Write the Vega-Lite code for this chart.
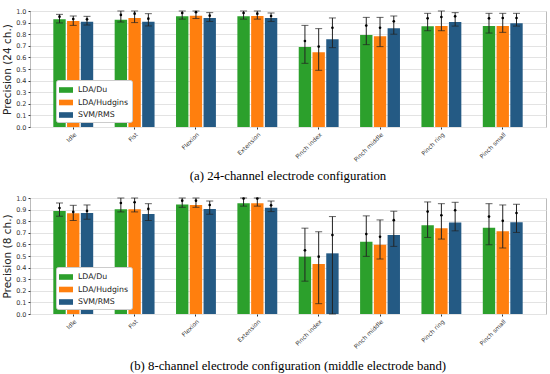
{
  "$schema": "https://vega.github.io/schema/vega-lite/v6.json",
  "padding": {"left": 2, "top": 7, "right": 4, "bottom": 2},
  "background": "white",
  "spacing": 10,
  "config": {
    "font": "DejaVu Sans",
    "view": {"stroke": "#bbbbbb", "strokeWidth": 1},
    "axis": {"labelFont": "DejaVu Sans", "titleFont": "DejaVu Sans", "labelColor": "#333", "tickColor": "#333", "domain": false},
    "axisY": {"tickCount": 10, "labelOverlap": false, "values": [0, 0.1, 0.2, 0.3, 0.4, 0.5, 0.6, 0.7, 0.8, 0.9, 1.0], "format": ".1f", "labelFontSize": 6.5, "tickSize": 2, "labelPadding": 2, "gridColor": "#e3e3e3", "titlePadding": 3, "titleFontSize": 10.5, "titleFontWeight": "normal", "titleColor": "#222"},
    "legend": {"labelFont": "DejaVu Sans"}
  },
  "datasets": {
    "ch24": [
      {"gesture": "Idle", "method": "LDA/Du", "value": 0.928, "lo": 0.897, "hi": 0.971, "dot": 0.951},
      {"gesture": "Idle", "method": "LDA/Hudgins", "value": 0.914, "lo": 0.876, "hi": 0.957, "dot": 0.931},
      {"gesture": "Idle", "method": "SVM/RMS", "value": 0.908, "lo": 0.879, "hi": 0.954, "dot": 0.928},
      {"gesture": "Fist", "method": "LDA/Du", "value": 0.925, "lo": 0.905, "hi": 1.0, "dot": 0.966},
      {"gesture": "Fist", "method": "LDA/Hudgins", "value": 0.94, "lo": 0.9, "hi": 1.0, "dot": 0.977},
      {"gesture": "Fist", "method": "SVM/RMS", "value": 0.908, "lo": 0.871, "hi": 0.977, "dot": 0.934},
      {"gesture": "Flexion", "method": "LDA/Du", "value": 0.954, "lo": 0.93, "hi": 1.0, "dot": 0.983},
      {"gesture": "Flexion", "method": "LDA/Hudgins", "value": 0.96, "lo": 0.935, "hi": 1.0, "dot": 0.99},
      {"gesture": "Flexion", "method": "SVM/RMS", "value": 0.94, "lo": 0.91, "hi": 0.986, "dot": 0.96},
      {"gesture": "Extension", "method": "LDA/Du", "value": 0.954, "lo": 0.93, "hi": 1.0, "dot": 0.983},
      {"gesture": "Extension", "method": "LDA/Hudgins", "value": 0.957, "lo": 0.93, "hi": 1.0, "dot": 0.977},
      {"gesture": "Extension", "method": "SVM/RMS", "value": 0.94, "lo": 0.91, "hi": 0.983, "dot": 0.957},
      {"gesture": "Pinch index", "method": "LDA/Du", "value": 0.69, "lo": 0.549, "hi": 0.876, "dot": 0.741},
      {"gesture": "Pinch index", "method": "LDA/Hudgins", "value": 0.644, "lo": 0.489, "hi": 0.848, "dot": 0.693},
      {"gesture": "Pinch index", "method": "SVM/RMS", "value": 0.756, "lo": 0.684, "hi": 0.94, "dot": 0.856},
      {"gesture": "Pinch middle", "method": "LDA/Du", "value": 0.793, "lo": 0.71, "hi": 0.945, "dot": 0.874},
      {"gesture": "Pinch middle", "method": "LDA/Hudgins", "value": 0.782, "lo": 0.693, "hi": 0.945, "dot": 0.856},
      {"gesture": "Pinch middle", "method": "SVM/RMS", "value": 0.851, "lo": 0.8, "hi": 0.957, "dot": 0.911},
      {"gesture": "Pinch ring", "method": "LDA/Du", "value": 0.868, "lo": 0.83, "hi": 0.98, "dot": 0.937},
      {"gesture": "Pinch ring", "method": "LDA/Hudgins", "value": 0.871, "lo": 0.83, "hi": 1.0, "dot": 0.948},
      {"gesture": "Pinch ring", "method": "SVM/RMS", "value": 0.905, "lo": 0.87, "hi": 0.986, "dot": 0.954},
      {"gesture": "Pinch small", "method": "LDA/Du", "value": 0.871, "lo": 0.81, "hi": 0.98, "dot": 0.937},
      {"gesture": "Pinch small", "method": "LDA/Hudgins", "value": 0.871, "lo": 0.816, "hi": 0.98, "dot": 0.94},
      {"gesture": "Pinch small", "method": "SVM/RMS", "value": 0.894, "lo": 0.87, "hi": 0.98, "dot": 0.94}
    ],
    "ch8": [
      {"gesture": "Idle", "method": "LDA/Du", "value": 0.889, "lo": 0.843, "hi": 0.957, "dot": 0.914},
      {"gesture": "Idle", "method": "LDA/Hudgins", "value": 0.869, "lo": 0.806, "hi": 0.937, "dot": 0.88},
      {"gesture": "Idle", "method": "SVM/RMS", "value": 0.871, "lo": 0.817, "hi": 0.94, "dot": 0.889},
      {"gesture": "Fist", "method": "LDA/Du", "value": 0.903, "lo": 0.88, "hi": 1.0, "dot": 0.957},
      {"gesture": "Fist", "method": "LDA/Hudgins", "value": 0.903, "lo": 0.88, "hi": 1.0, "dot": 0.963},
      {"gesture": "Fist", "method": "SVM/RMS", "value": 0.863, "lo": 0.806, "hi": 0.951, "dot": 0.906},
      {"gesture": "Flexion", "method": "LDA/Du", "value": 0.943, "lo": 0.92, "hi": 1.0, "dot": 0.977},
      {"gesture": "Flexion", "method": "LDA/Hudgins", "value": 0.94, "lo": 0.92, "hi": 1.0, "dot": 0.977},
      {"gesture": "Flexion", "method": "SVM/RMS", "value": 0.906, "lo": 0.86, "hi": 0.974, "dot": 0.94},
      {"gesture": "Extension", "method": "LDA/Du", "value": 0.954, "lo": 0.93, "hi": 1.0, "dot": 0.995},
      {"gesture": "Extension", "method": "LDA/Hudgins", "value": 0.954, "lo": 0.93, "hi": 1.0, "dot": 0.995},
      {"gesture": "Extension", "method": "SVM/RMS", "value": 0.917, "lo": 0.883, "hi": 0.974, "dot": 0.937},
      {"gesture": "Pinch index", "method": "LDA/Du", "value": 0.494, "lo": 0.283, "hi": 0.74, "dot": 0.549},
      {"gesture": "Pinch index", "method": "LDA/Hudgins", "value": 0.431, "lo": 0.089, "hi": 0.709, "dot": 0.494},
      {"gesture": "Pinch index", "method": "SVM/RMS", "value": 0.523, "lo": 0.0, "hi": 0.84, "dot": 0.68},
      {"gesture": "Pinch middle", "method": "LDA/Du", "value": 0.623, "lo": 0.497, "hi": 0.846, "dot": 0.689},
      {"gesture": "Pinch middle", "method": "LDA/Hudgins", "value": 0.597, "lo": 0.474, "hi": 0.811, "dot": 0.666},
      {"gesture": "Pinch middle", "method": "SVM/RMS", "value": 0.68, "lo": 0.583, "hi": 0.886, "dot": 0.809},
      {"gesture": "Pinch ring", "method": "LDA/Du", "value": 0.766, "lo": 0.66, "hi": 0.966, "dot": 0.883},
      {"gesture": "Pinch ring", "method": "LDA/Hudgins", "value": 0.74, "lo": 0.646, "hi": 0.951, "dot": 0.851},
      {"gesture": "Pinch ring", "method": "SVM/RMS", "value": 0.789, "lo": 0.717, "hi": 0.963, "dot": 0.894},
      {"gesture": "Pinch small", "method": "LDA/Du", "value": 0.743, "lo": 0.597, "hi": 0.951, "dot": 0.84},
      {"gesture": "Pinch small", "method": "LDA/Hudgins", "value": 0.714, "lo": 0.569, "hi": 0.94, "dot": 0.803},
      {"gesture": "Pinch small", "method": "SVM/RMS", "value": 0.791, "lo": 0.703, "hi": 0.946, "dot": 0.871}
    ]
  },
  "resolve": {"scale": {"color": "independent"}, "legend": {"color": "independent"}},
  "vconcat": [
    {
      "width": 516,
      "height": 116,
      "data": {"name": "ch24"},
      "title": {"text": "(a) 24-channel electrode configuration", "orient": "bottom", "font": "Liberation Serif", "fontSize": 12.8, "fontWeight": "normal", "color": "black", "offset": 8},
      "encoding": {
        "x": {"field": "gesture", "type": "nominal", "sort": ["Idle", "Fist", "Flexion", "Extension", "Pinch index", "Pinch middle", "Pinch ring", "Pinch small"], "scale": {"paddingInner": 0.35, "paddingOuter": 0.38}, "axis": {"title": null, "labelAngle": -45, "labelFontSize": 6, "tickSize": 2, "labelPadding": 2}},
        "xOffset": {"field": "method", "type": "nominal", "sort": ["LDA/Du", "LDA/Hudgins", "SVM/RMS"], "scale": {"paddingInner": 0.1}}
      },
      "layer": [
        {
          "mark": {"type": "bar"},
          "encoding": {
            "y": {"field": "value", "type": "quantitative", "scale": {"domain": [0, 1], "nice": false}, "axis": {"title": "Precision (24 ch.)"}},
            "color": {"field": "method", "type": "nominal", "scale": {"domain": ["LDA/Du", "LDA/Hudgins", "SVM/RMS"], "range": ["#2ca02c", "#ff7f0e", "#245a84"]}, "legend": {"title": null, "orient": "none", "legendX": 26, "legendY": 69, "fillColor": "white", "strokeColor": "#cccccc", "padding": 3, "labelFontSize": 7.8, "labelColor": "#222", "symbolType": "M-1,-0.4H1V0.4H-1Z", "symbolSize": 196, "symbolStrokeWidth": 0, "symbolOpacity": 1, "rowPadding": 1.5, "labelOffset": 5, "cornerRadius": 2}}
          }
        },
        {
          "mark": {"type": "rule", "color": "#222", "strokeWidth": 1},
          "encoding": {"y": {"field": "lo", "type": "quantitative", "axis": {"title": "Precision (24 ch.)"}}, "y2": {"field": "hi"}}
        },
        {
          "mark": {"type": "tick", "color": "#222", "size": 7, "thickness": 1},
          "encoding": {"y": {"field": "hi", "type": "quantitative", "axis": {"title": "Precision (24 ch.)"}}}
        },
        {
          "mark": {"type": "tick", "color": "#222", "size": 7, "thickness": 1},
          "encoding": {"y": {"field": "lo", "type": "quantitative", "axis": {"title": "Precision (24 ch.)"}}}
        },
        {
          "mark": {"type": "point", "filled": true, "color": "black", "size": 7, "opacity": 1},
          "encoding": {"y": {"field": "dot", "type": "quantitative", "axis": {"title": "Precision (24 ch.)"}}}
        }
      ]
    },
    {
      "width": 516,
      "height": 116,
      "data": {"name": "ch8"},
      "title": {"text": "(b) 8-channel electrode configuration (middle electrode band)", "orient": "bottom", "font": "Liberation Serif", "fontSize": 12.8, "fontWeight": "normal", "color": "black", "offset": 11},
      "encoding": {
        "x": {"field": "gesture", "type": "nominal", "sort": ["Idle", "Fist", "Flexion", "Extension", "Pinch index", "Pinch middle", "Pinch ring", "Pinch small"], "scale": {"paddingInner": 0.35, "paddingOuter": 0.38}, "axis": {"title": null, "labelAngle": -45, "labelFontSize": 6, "tickSize": 2, "labelPadding": 2}},
        "xOffset": {"field": "method", "type": "nominal", "sort": ["LDA/Du", "LDA/Hudgins", "SVM/RMS"], "scale": {"paddingInner": 0.1}}
      },
      "layer": [
        {
          "mark": {"type": "bar"},
          "encoding": {
            "y": {"field": "value", "type": "quantitative", "scale": {"domain": [0, 1], "nice": false}, "axis": {"title": "Precision (8 ch.)"}},
            "color": {"field": "method", "type": "nominal", "scale": {"domain": ["LDA/Du", "LDA/Hudgins", "SVM/RMS"], "range": ["#2ca02c", "#ff7f0e", "#245a84"]}, "legend": {"title": null, "orient": "none", "legendX": 26, "legendY": 69, "fillColor": "white", "strokeColor": "#cccccc", "padding": 3, "labelFontSize": 7.8, "labelColor": "#222", "symbolType": "M-1,-0.4H1V0.4H-1Z", "symbolSize": 196, "symbolStrokeWidth": 0, "symbolOpacity": 1, "rowPadding": 1.5, "labelOffset": 5, "cornerRadius": 2}}
          }
        },
        {
          "mark": {"type": "rule", "color": "#222", "strokeWidth": 1},
          "encoding": {"y": {"field": "lo", "type": "quantitative", "axis": {"title": "Precision (8 ch.)"}}, "y2": {"field": "hi"}}
        },
        {
          "mark": {"type": "tick", "color": "#222", "size": 7, "thickness": 1},
          "encoding": {"y": {"field": "hi", "type": "quantitative", "axis": {"title": "Precision (8 ch.)"}}}
        },
        {
          "mark": {"type": "tick", "color": "#222", "size": 7, "thickness": 1},
          "encoding": {"y": {"field": "lo", "type": "quantitative", "axis": {"title": "Precision (8 ch.)"}}}
        },
        {
          "mark": {"type": "point", "filled": true, "color": "black", "size": 7, "opacity": 1},
          "encoding": {"y": {"field": "dot", "type": "quantitative", "axis": {"title": "Precision (8 ch.)"}}}
        }
      ]
    }
  ]
}
